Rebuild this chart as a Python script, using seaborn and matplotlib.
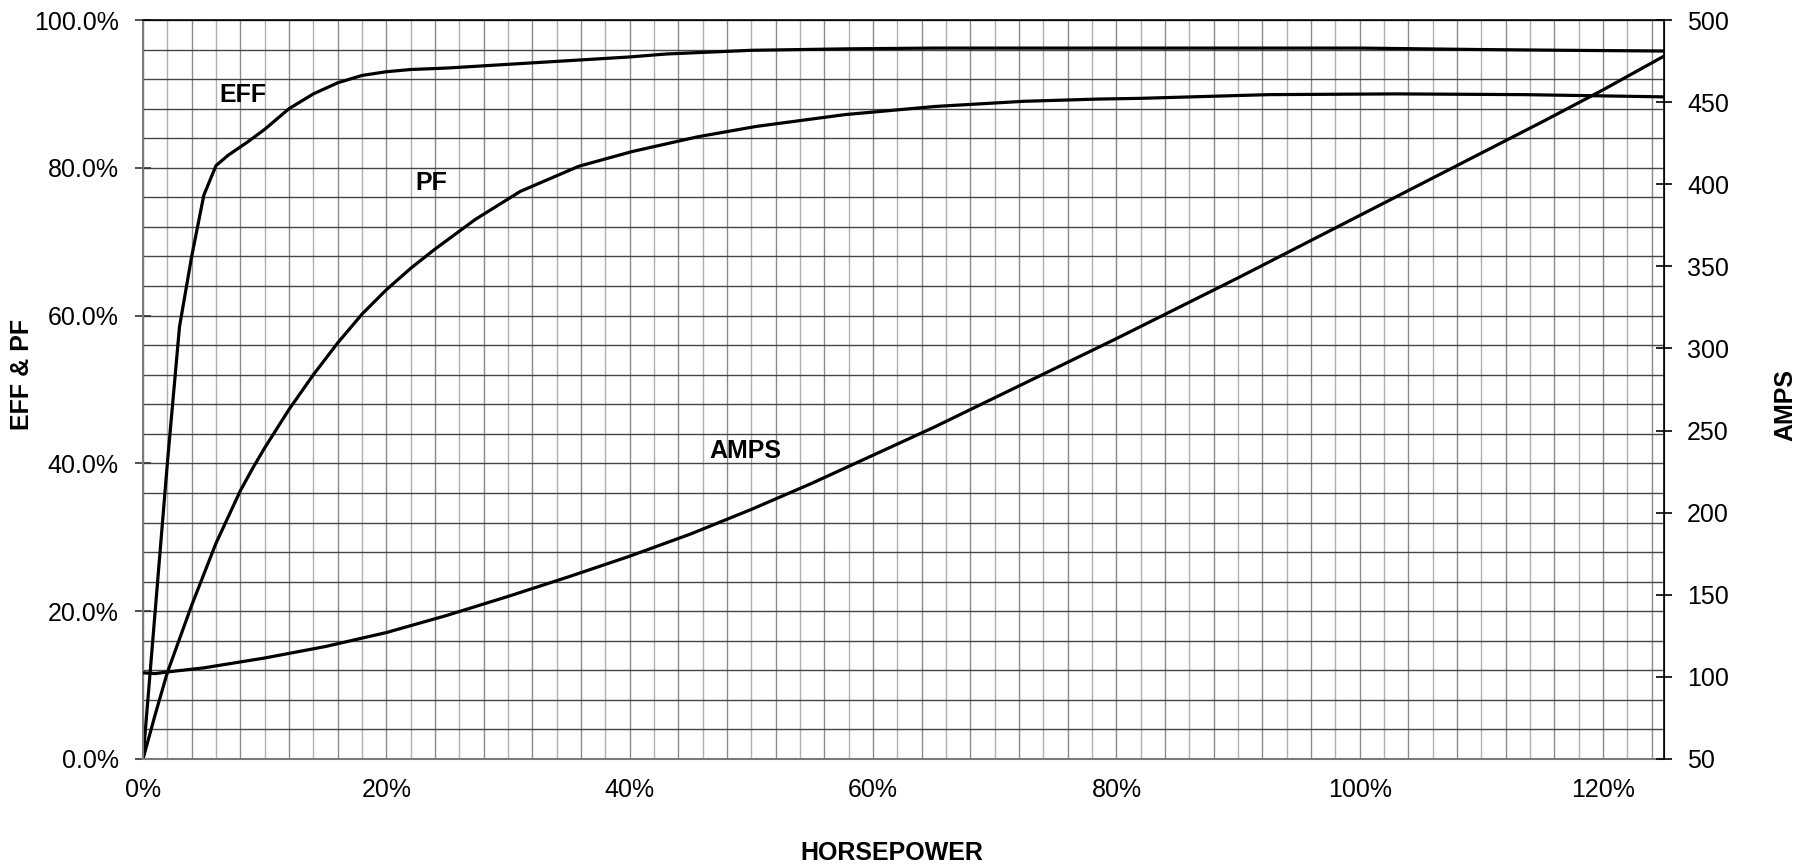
import numpy as np
import pandas as pd
import matplotlib
matplotlib.use("Agg")
import matplotlib.pyplot as plt
from matplotlib.ticker import FixedLocator, FuncFormatter, MultipleLocator
import seaborn as sns

# ---- data ----
eff_hp = [0, 1, 2, 3, 4, 5, 6, 7, 8.6, 10, 12, 14, 16, 18, 20, 22, 25, 30, 34, 40,
          43, 50, 58, 65, 72, 80, 90, 100, 110, 117, 125]
eff_val = [0, 20, 40, 58.5, 68, 76.3, 80.3, 81.7, 83.5, 85.2, 88, 90, 91.5, 92.5, 93,
           93.3, 93.5, 94, 94.4, 95, 95.4, 95.9, 96.1, 96.2, 96.2, 96.2, 96.2, 96.2,
           96.0, 95.9, 95.8]

pf_hp = [0, 1, 2, 4, 6, 8, 9, 10, 12, 14, 16, 18, 20, 22, 24, 27.3, 31, 35.8, 40.2, 45.6,
         50.4, 57.7, 65.1, 72.4, 78.5, 82, 92.5, 103, 113.5, 125]
pf_val = [0, 6, 11.7, 20.8, 29.2, 36.3, 39.3, 42.1, 47.3, 52, 56.3, 60.2, 63.5, 66.4, 69,
          73, 76.8, 80.2, 82.2, 84.2, 85.6, 87.2, 88.3, 89.0, 89.3, 89.4, 89.9, 90.0,
          89.9, 89.6]

amps_hp = [0, 1, 2, 5, 10, 15, 20, 25, 30, 35, 40, 45, 50, 55, 60, 65, 70, 75, 80, 85,
           90, 95, 100, 105, 110, 115, 120, 125]
amps_val = [102.5, 102, 103, 105.5, 111.5, 118.5, 127, 137.5, 149, 161, 173.5, 187, 202,
            218, 235, 252, 270, 288, 306, 324.5, 343, 362, 381, 400, 419, 438, 457.5, 478]

x_label_ticks = [0, 20, 40, 60, 80, 100, 120]
left_ticks = [0, 20, 40, 60, 80, 100]
right_ticks = [50, 100, 150, 200, 250, 300, 350, 400, 450, 500]

# ---- style ----
sns.set_style("white")
plt.rcParams["font.family"] = ["Liberation Sans", "DejaVu Sans"]
plt.rcParams["text.color"] = "black"
plt.rcParams["axes.labelcolor"] = "black"
plt.rcParams["xtick.color"] = "black"
plt.rcParams["ytick.color"] = "black"

fig = plt.figure(figsize=(18.12, 8.67), dpi=100)
ax = fig.add_axes([143 / 1812, 1 - 759 / 867, 1521 / 1812, 739 / 867])

lw = 2.3
sns.lineplot(x=eff_hp, y=eff_val, ax=ax, color="black", linewidth=lw, sort=False)
sns.lineplot(x=pf_hp, y=pf_val, ax=ax, color="black", linewidth=lw, sort=False)

ax.set_xlim(0, 125)
ax.set_ylim(0, 100)

# grid
ax.xaxis.set_major_locator(MultipleLocator(4))
ax.xaxis.set_minor_locator(MultipleLocator(2))
ax.yaxis.set_major_locator(FixedLocator(left_ticks))
ax.yaxis.set_minor_locator(MultipleLocator(4))
ax.grid(which="major", axis="x", color="#8a8a8a", linewidth=1.0)
ax.grid(which="minor", axis="x", color="#b0b0b0", linewidth=1.0)
ax.grid(which="both", axis="y", color="#454545", linewidth=1.0)
ax.set_axisbelow(True)

ax.xaxis.set_major_formatter(FuncFormatter(
    lambda v, p: f"{v:.0f}%" if int(round(v)) in x_label_ticks else ""))
ax.yaxis.set_major_formatter(FuncFormatter(lambda v, p: f"{v:.1f}%"))

ax.tick_params(axis="x", which="major", direction="inout", length=11, width=1.5,
               color="#8a8a8a", labelcolor="black", labelsize=18, pad=8)
ax.tick_params(axis="x", which="minor", length=0)
ax.tick_params(axis="y", which="major", direction="inout", length=11, width=1.2,
               color="#333333", labelcolor="black", labelsize=18, pad=12)
ax.tick_params(axis="y", which="minor", length=0)

for s in ["left", "bottom"]:
    ax.spines[s].set_color("#7a7a7a")
    ax.spines[s].set_linewidth(1.5)
ax.spines["top"].set_color("black")
ax.spines["top"].set_linewidth(1.2)

ax.set_xlabel("HORSEPOWER", fontsize=18, fontweight="bold", va="center", color="black")
ax.xaxis.set_label_coords(0.4925, -0.127)
ax.set_ylabel("EFF & PF", fontsize=18, fontweight="bold", va="center", color="black")
ax.yaxis.set_label_coords(-0.0796, 0.521)

# right axis
ax2 = ax.twinx()
sns.lineplot(x=amps_hp, y=amps_val, ax=ax2, color="black", linewidth=lw, sort=False)
ax2.set_ylim(50, 500)
ax2.set_xlim(0, 125)
ax2.yaxis.set_major_locator(FixedLocator(right_ticks))
ax2.tick_params(axis="y", direction="inout", length=11, width=1.2, color="black",
                labelcolor="black", labelsize=18, pad=11)
ax2.grid(False)
ax2.spines["right"].set_color("black")
ax2.spines["right"].set_linewidth(1.2)
for s in ["left", "bottom", "top"]:
    ax2.spines[s].set_visible(False)
ax2.set_ylabel("AMPS", fontsize=18, fontweight="bold", va="center", color="black")
ax2.yaxis.set_label_coords(1.0796, 0.479)

# curve labels
ax.text(8.2, 89.9, "EFF", fontsize=18, fontweight="bold", ha="center", va="center",
        color="black")
ax.text(23.7, 78.0, "PF", fontsize=18, fontweight="bold", ha="center", va="center",
        color="black")
ax.text(49.5, 41.7, "AMPS", fontsize=18, fontweight="bold", ha="center", va="center",
        color="black")

fig.savefig("out.png", dpi=100)
